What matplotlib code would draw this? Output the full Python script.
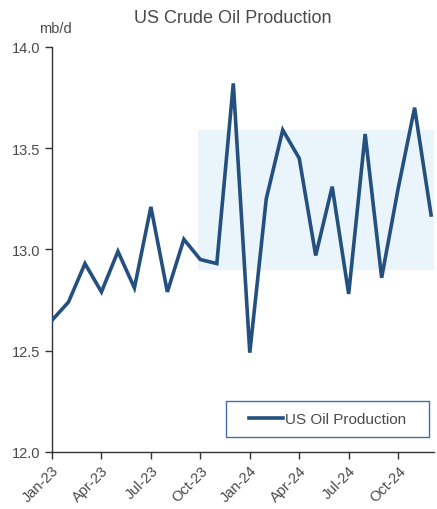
import matplotlib.pyplot as plt
from matplotlib.patches import Rectangle
import numpy as np

plt.rcParams['font.family'] = ['Liberation Sans', 'DejaVu Sans']

# monthly US crude output, Jan-23 .. Dec-24 (mb/d)
months = ['Jan-23', 'Feb-23', 'Mar-23', 'Apr-23', 'May-23', 'Jun-23',
          'Jul-23', 'Aug-23', 'Sep-23', 'Oct-23', 'Nov-23', 'Dec-23',
          'Jan-24', 'Feb-24', 'Mar-24', 'Apr-24', 'May-24', 'Jun-24',
          'Jul-24', 'Aug-24', 'Sep-24', 'Oct-24', 'Nov-24', 'Dec-24']
production = [12.65, 12.74, 12.93, 12.79, 12.99, 12.81,
              13.21, 12.79, 13.05, 12.95, 12.93, 13.82,
              12.49, 13.25, 13.59, 13.45, 12.97, 13.31,
              12.78, 13.57, 12.86, 13.30, 13.70, 13.17]
tick_labels = ['Jan-23', 'Apr-23', 'Jul-23', 'Oct-23',
               'Jan-24', 'Apr-24', 'Jul-24', 'Oct-24']
band_low, band_high = 12.90, 13.59

line_col = '#24507f'
text_col = '#4a4a4a'

fig = plt.figure(figsize=(4.37, 5.10), dpi=100)
ax = fig.add_axes([0.119, 0.112, 0.875, 0.794])

x = np.arange(len(months))
ax.add_patch(Rectangle((8.85, band_low), 30, band_high - band_low,
                       facecolor='#eaf4fb', edgecolor='none', zorder=0))
ax.plot(x, production, color=line_col, lw=2.6, solid_joinstyle='miter',
        label='US Oil Production', zorder=3)

ax.set_xlim(0, 23.2)
ax.set_ylim(12.0, 14.0)
ax.set_yticks([12.0, 12.5, 13.0, 13.5, 14.0])
ax.set_yticklabels(['12.0', '12.5', '13.0', '13.5', '14.0'])
ax.set_xticks([months.index(m) for m in tick_labels])
ax.set_xticklabels(tick_labels, rotation=45, ha='right', rotation_mode='anchor')

for s in ['top', 'right']:
    ax.spines[s].set_visible(False)
for s in ['left', 'bottom']:
    ax.spines[s].set_color('#333333')
    ax.spines[s].set_linewidth(1.0)
ax.tick_params(axis='both', colors='#333333', labelcolor=text_col,
               labelsize=10.5, length=5, width=1)
ax.tick_params(axis='x', pad=3)

fig.text(0.533, 0.963, 'US Crude Oil Production', ha='center', va='center',
         fontsize=13, color=text_col)
fig.text(0.126, 0.943, 'mb/d', ha='center', va='center',
         fontsize=10.5, color=text_col)

# legend box
bx0, bx1, by0, by1 = 226 / 437, 429 / 437, 1 - 438 / 510, 1 - 402 / 510
fig.patches.append(Rectangle((bx0, by0), bx1 - bx0, by1 - by0,
                             transform=fig.transFigure, facecolor='white',
                             edgecolor='#3f6fa6', lw=1.0, zorder=5))
leg = fig.legend(loc='center', bbox_to_anchor=((bx0 + bx1) / 2, (by0 + by1) / 2),
                 frameon=False, fontsize=11, handlelength=2.2, handletextpad=0.1)
for t in leg.get_texts():
    t.set_color(text_col)
leg.set_zorder(6)

fig.savefig('out.png', dpi=100)
